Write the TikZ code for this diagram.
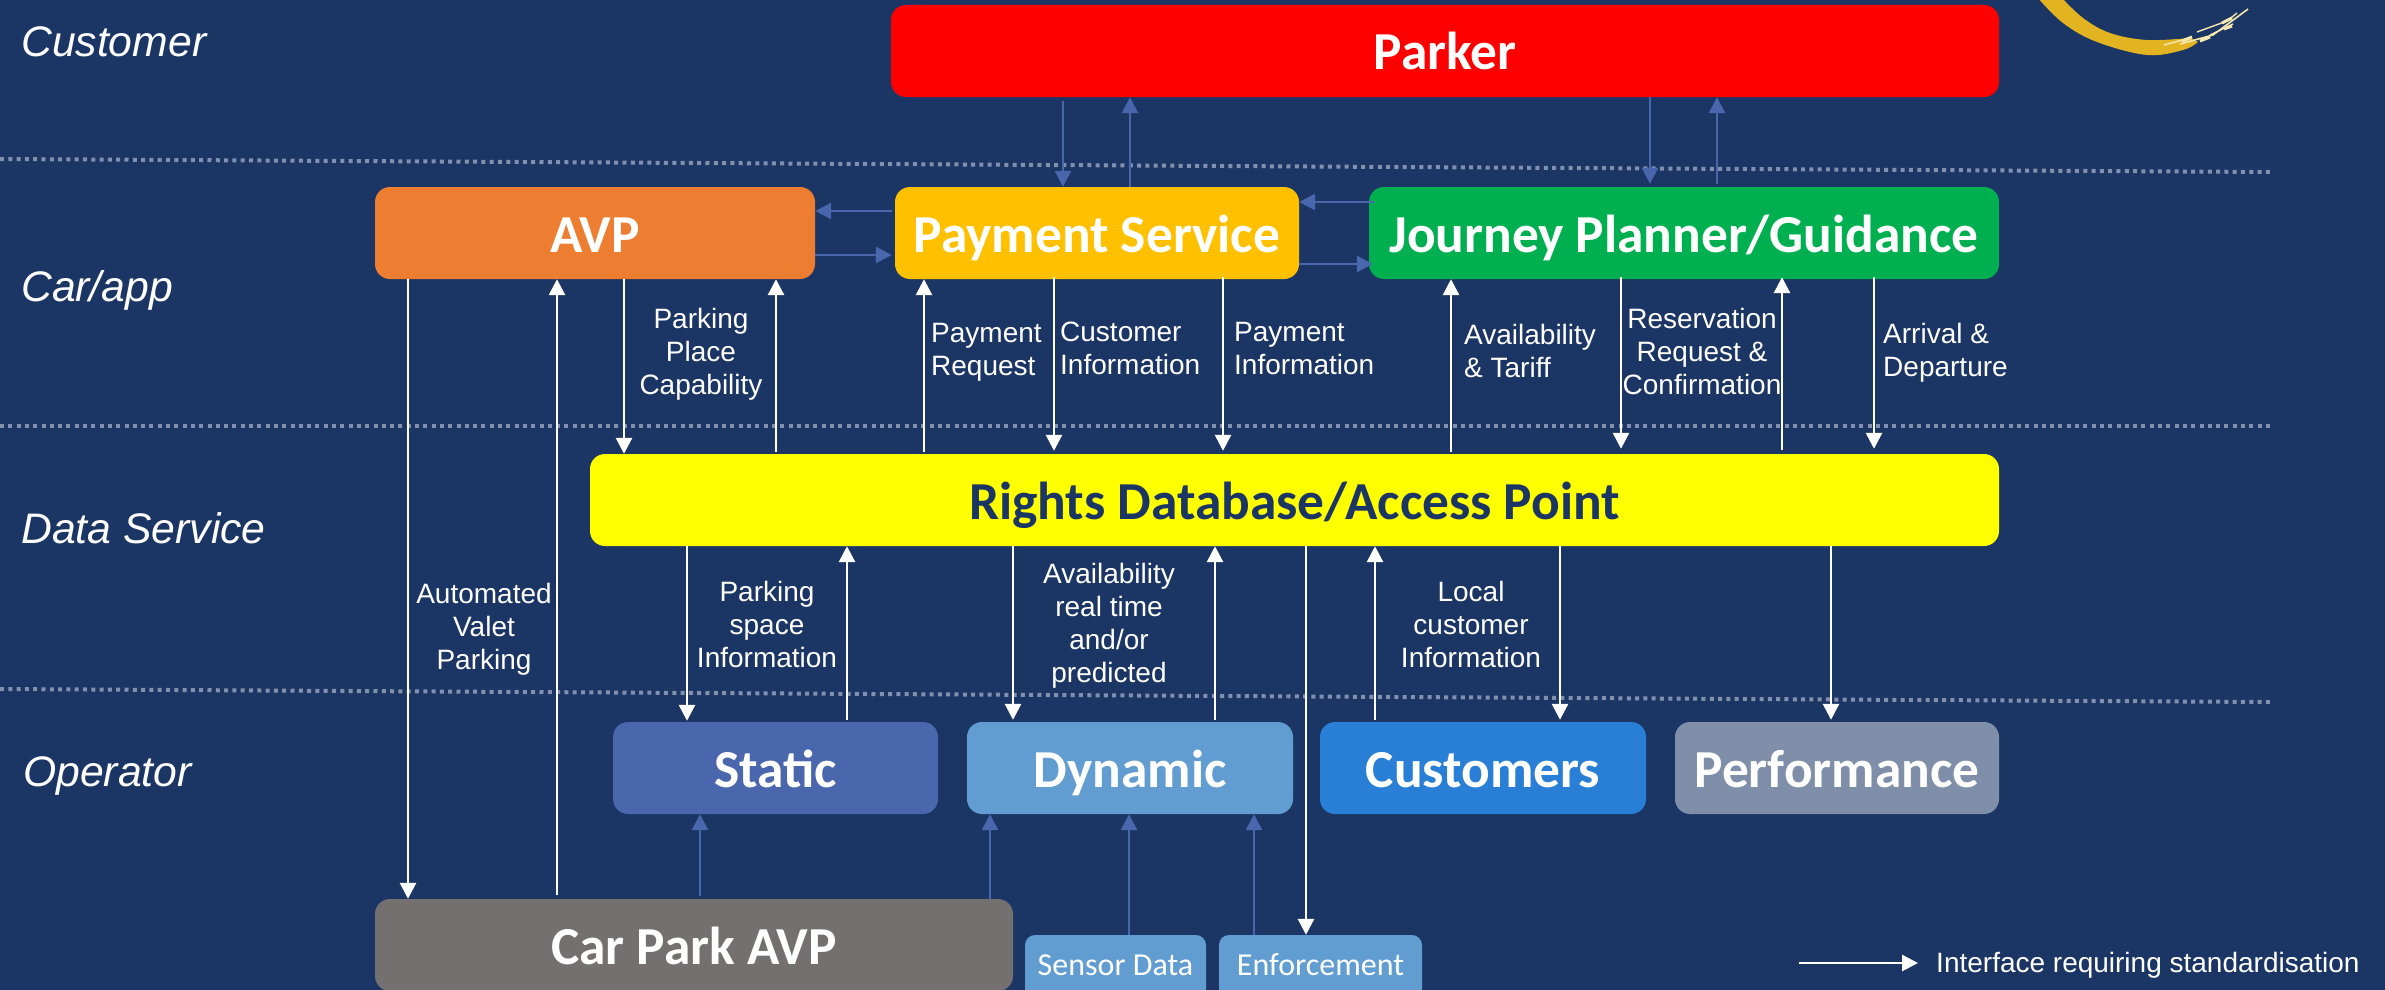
\documentclass[tikz,border=0pt]{standalone}
\usepackage{fontspec}
\setmainfont{Liberation Sans}
\newfontfamily\boxfont{Carlito}
\usetikzlibrary{arrows.meta}
\definecolor{bgblue}{HTML}{1B3664}
\definecolor{linkblue}{HTML}{4A66AC}
\definecolor{dotgrey}{HTML}{8290AE}
\definecolor{cRed}{HTML}{FF0000}
\definecolor{cYellow}{HTML}{FFFF00}
\definecolor{cOrange}{HTML}{ED7D31}
\definecolor{cAmber}{HTML}{FFC000}
\definecolor{cGreen}{HTML}{00B050}
\definecolor{cStatic}{HTML}{4A66AC}
\definecolor{cDynamic}{HTML}{629DD1}
\definecolor{cCust}{HTML}{297FD5}
\definecolor{cPerf}{HTML}{7F8FA9}
\definecolor{cGrey}{HTML}{747070}
\definecolor{cGold}{HTML}{E3B422}
\definecolor{cPale}{HTML}{F5E8B0}
\tikzset{
  blockbox/.style={rounded corners=15pt,inner sep=0pt,text=white,align=center,
    text height=38pt,text depth=0pt,
    font=\boxfont\bfseries\fontsize{53.4}{60}\selectfont},
  smallbox/.style={rounded corners=10pt,inner sep=0pt,text=white,align=center,
    font=\boxfont\fontsize{32}{38}\selectfont},
  labeltext/.style={inner sep=0pt,text=white,font=\fontsize{28}{33}\selectfont},
  rowtext/.style={inner sep=0pt,anchor=west,text=white,text height=30pt,text depth=0pt,
    font=\itshape\fontsize{42.7}{50}\selectfont},
  dotline/.style={draw=dotgrey,line width=4pt,dash pattern=on 4pt off 4.3pt},
  whitelink/.style={draw=white,line width=2.8pt,-{Triangle[length=16pt,width=16pt]}},
  bluelink/.style={draw=linkblue,line width=2.8pt,-{Triangle[length=16pt,width=16pt]}},
}
\newcommand{\vlink}[4]{\coordinate (vx) at (#2,0); \draw[#1] (#3 -| vx) -- (#4 -| vx);}
\newcommand{\hlink}[4]{\coordinate (hy) at (0,#2); \draw[#1] (#3 |- hy) -- (#4 |- hy);}
\begin{document}
\begin{tikzpicture}[x=1pt,y=-1pt]
\useasboundingbox (0,0) rectangle (2385,990);
\clip (0,0) rectangle (2385,990);
\fill[bgblue] (0,0) rectangle (2385,990);
% tier separators
\coordinate (d1a) at (0,159); \coordinate (d1b) at (2270,172);
\coordinate (d2a) at (0,426); \coordinate (d2b) at (2270,426);
\coordinate (d3a) at (0,689); \coordinate (d3b) at (2270,702);
\draw[dotline] (d1a) -- (d1b);
\draw[dotline] (d2a) -- (d2b);
\draw[dotline] (d3a) -- (d3b);
% logo
\fill[cGold] plot[smooth,tension=.6] coordinates {(2036,-4) (2063,23) (2097,42) (2147,55) (2183,50) (2198,42)}
  -- plot[smooth,tension=.6] coordinates {(2190,38) (2147,40) (2110,33) (2083,18) (2060,-4)} -- cycle;
\draw[cPale,line width=1.4pt] (2164,45) -- (2190,38);
\draw[cPale,line width=1.6pt] (2180,44) -- (2213,35) -- (2248,9);
\draw[cPale,line width=1.4pt] (2197,32) -- (2227,21) -- (2237,13);
\draw[cPale,line width=1.4pt] (2210,35) -- (2233,24);
\draw[cPale,line width=3pt] (2182,41) -- (2192,37);
\draw[cPale,line width=3pt] (2222,23) -- (2232,18);
\draw[cPale,line width=3pt] (2200,41) -- (2210,37);
\draw[cPale,line width=3pt] (2224,29) -- (2232,26);
% row labels
\node[rowtext] (rowCustomer) at (21,42) {Customer};
\node[rowtext] (rowCar) at (21,286) {Car/app};
\node[rowtext] (rowData) at (21,528) {Data Service};
\node[rowtext] (rowOperator) at (23,771) {Operator};
% boxes
\node[blockbox,fill=cRed,minimum width=1108pt,minimum height=92pt] (parker) at (1445,51) {Parker};
\node[blockbox,fill=cOrange,minimum width=440pt,minimum height=92pt] (avp) at (595,233) {AVP};
\node[blockbox,fill=cAmber,minimum width=404pt,minimum height=92pt] (pay) at (1097,233) {Payment Service};
\node[blockbox,fill=cGreen,minimum width=630pt,minimum height=92pt] (journey) at (1684,233) {Journey Planner/Guidance};
\node[blockbox,fill=cYellow,text=bgblue,minimum width=1409pt,minimum height=92pt] (rights) at (1294.5,500) {Rights Database/Access Point};
\node[blockbox,fill=cStatic,minimum width=325pt,minimum height=92pt] (static) at (775.5,768) {Static};
\node[blockbox,fill=cDynamic,minimum width=326pt,minimum height=92pt] (dynamic) at (1130,768) {Dynamic};
\node[blockbox,fill=cCust,minimum width=326pt,minimum height=92pt] (customers) at (1483,768) {Customers};
\node[blockbox,fill=cPerf,minimum width=324pt,minimum height=92pt] (perf) at (1837,768) {Performance};
\node[blockbox,fill=cGrey,minimum width=638pt,minimum height=92pt] (carpark) at (694,945) {Car Park AVP};
\node[smallbox,fill=cDynamic,minimum width=181pt,minimum height=92pt] (sensor) at (1115.5,981) {};
\node[smallbox,fill=cDynamic,minimum width=203pt,minimum height=92pt] (enforce) at (1320.5,981) {};
\node[smallbox] (sensorText) at (1115.5,965) {Sensor Data};
\node[smallbox] (enforceText) at (1320.5,965) {Enforcement};
% blue links, upper
\vlink{bluelink,shorten <=4pt}{1063}{parker.south}{pay.north}
\vlink{bluelink}{1130}{pay.north}{parker.south}
\vlink{bluelink,shorten >=3pt}{1650}{parker.south}{journey.north}
\vlink{bluelink,shorten <=3pt}{1717}{journey.north}{parker.south}
\hlink{bluelink,shorten <=3pt}{211}{pay.west}{avp.east}
\hlink{bluelink,shorten >=3pt}{255}{avp.east}{pay.west}
\hlink{bluelink,shorten <=-5pt}{202}{journey.west}{pay.east}
\hlink{bluelink,shorten >=-4pt}{264}{pay.east}{journey.west}
% blue links, lower
\vlink{bluelink,shorten <=3pt}{700}{carpark.north}{static.south}
\vlink{bluelink}{990}{carpark.north}{dynamic.south}
\vlink{bluelink}{1129}{sensor.north}{dynamic.south}
\vlink{bluelink}{1254}{enforce.north}{dynamic.south}
% white links, car/app to data
\vlink{whitelink}{408}{avp.south}{carpark.north}
\vlink{whitelink,shorten <=4pt}{557}{carpark.north}{avp.south}
\vlink{whitelink}{624}{avp.south}{rights.north}
\vlink{whitelink,shorten <=2pt}{776}{rights.north}{avp.south}
\vlink{whitelink,shorten <=2pt}{924}{rights.north}{pay.south}
\vlink{whitelink,shorten <=-2pt,shorten >=3pt}{1054}{pay.south}{rights.north}
\vlink{whitelink,shorten <=-2pt,shorten >=3pt}{1223}{pay.south}{rights.north}
\vlink{whitelink,shorten <=2pt}{1451}{rights.north}{journey.south}
\vlink{whitelink,shorten <=-2pt,shorten >=5pt}{1621}{journey.south}{rights.north}
\vlink{whitelink,shorten <=4pt,shorten >=-2pt}{1782}{rights.north}{journey.south}
\vlink{whitelink,shorten <=-2pt,shorten >=5pt}{1874}{journey.south}{rights.north}
% white links, data to operator
\vlink{whitelink,shorten >=1pt}{687}{rights.south}{static.north}
\vlink{whitelink,shorten <=2pt}{847}{static.north}{rights.south}
\vlink{whitelink,shorten >=2pt}{1013}{rights.south}{dynamic.north}
\vlink{whitelink,shorten <=2pt}{1215}{dynamic.north}{rights.south}
\vlink{whitelink}{1306}{rights.south}{enforce.north}
\vlink{whitelink,shorten <=2pt}{1375}{customers.north}{rights.south}
\vlink{whitelink,shorten >=2pt}{1560}{rights.south}{customers.north}
\vlink{whitelink,shorten >=2pt}{1831}{rights.south}{perf.north}
% labels
\node[labeltext,align=center] (lAuto) at (484,629) {Automated\\Valet\\Parking};
\node[labeltext,align=center] (lPlace) at (701,354) {Parking\\Place\\Capability};
\node[labeltext,align=left,anchor=west] (lReq) at (931,352) {Payment\\Request};
\node[labeltext,align=left,anchor=west] (lCust) at (1060,348.5) {Customer\\Information};
\node[labeltext,align=left,anchor=west] (lPayInfo) at (1234,348.5) {Payment\\Information};
\node[labeltext,align=left,anchor=west] (lAvail) at (1464,351) {Availability\\\& Tariff};
\node[labeltext,align=center] (lRes) at (1702,351) {Reservation\\Request \&\\Confirmation};
\node[labeltext,align=left,anchor=west] (lArr) at (1883,353) {Arrival \&\\Departure};
\node[labeltext,align=center] (lSpace) at (767,624) {Parking\\space\\Information};
\node[labeltext,align=center] (lReal) at (1109,626) {Availability\\real time\\and/or\\predicted};
\node[labeltext,align=center] (lLocal) at (1471,624) {Local\\customer\\Information};
% legend
\coordinate (legA) at (1799,963);
\node[labeltext,anchor=west] (legText) at (1936,965) {Interface requiring standardisation};
\coordinate (legB) at (1918,963);
\draw[whitelink] (legA) -- (legB);
\end{tikzpicture}
\end{document}
